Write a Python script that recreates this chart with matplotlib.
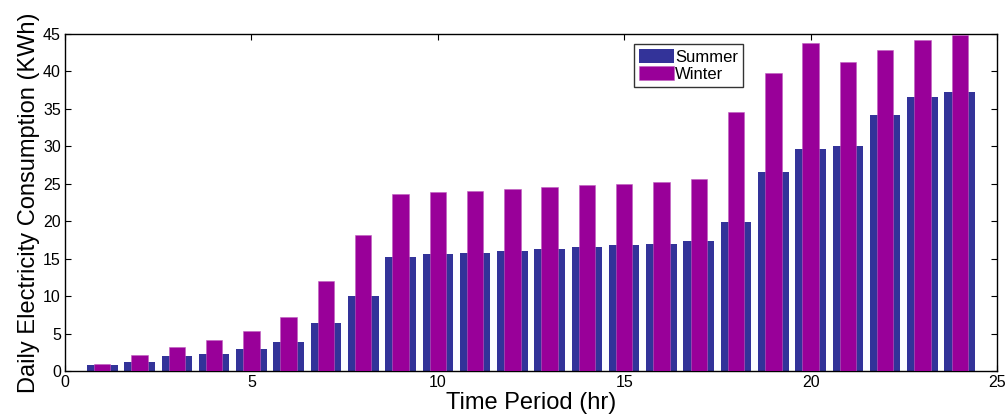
import matplotlib
matplotlib.use('Agg')
import matplotlib.pyplot as plt
import numpy as np

plt.rcParams['font.family'] = ['Liberation Sans', 'DejaVu Sans']

# hourly data
hours = np.arange(1, 25)
summer = [0.8, 1.2, 2.0, 2.3, 3.0, 3.9, 6.4, 10.0, 15.2, 15.6, 15.8, 16.0,
          16.3, 16.5, 16.8, 17.0, 17.3, 19.9, 26.6, 29.7, 30.0, 34.2, 36.6, 37.2]
winter = [1.0, 2.1, 3.2, 4.2, 5.3, 7.2, 12.0, 18.2, 23.6, 23.9, 24.1, 24.3,
          24.6, 24.8, 25.0, 25.3, 25.6, 34.6, 39.8, 43.8, 41.3, 42.8, 44.2, 44.9]

fig = plt.figure(figsize=(10.08, 4.16), dpi=100)
ax = fig.add_axes([65 / 1008, 1 - 371 / 416, 932 / 1008, 337 / 416])

ax.bar(hours, summer, width=0.82, color='#333399', label='Summer', zorder=2)
ax.bar(hours, winter, width=0.44, color='#990099', edgecolor='#c060c0',
       linewidth=0.4, label='Winter', zorder=3)

ax.set_xlim(0, 25)
ax.set_ylim(0, 45)
ax.set_xticks(range(0, 26, 5))
ax.set_yticks(range(0, 46, 5))
ax.tick_params(direction='in', top=True, right=True, labelsize=11.5, length=4,
               pad=3)
for s in ax.spines.values():
    s.set_linewidth(1.0)

ax.set_xlabel('Time Period (hr)', fontsize=17, labelpad=1)
ax.set_ylabel('Daily Electricity Consumption (KWh)', fontsize=17, labelpad=2)

leg = ax.legend(loc='upper left', bbox_to_anchor=(0.61, 0.97), fontsize=12,
                frameon=True, fancybox=False, edgecolor='black',
                handlelength=2.1, handleheight=0.9, handletextpad=0.1,
                borderpad=0.3, labelspacing=0.1, borderaxespad=0)
leg.get_frame().set_linewidth(1.0)

fig.savefig('out.png', dpi=100)
